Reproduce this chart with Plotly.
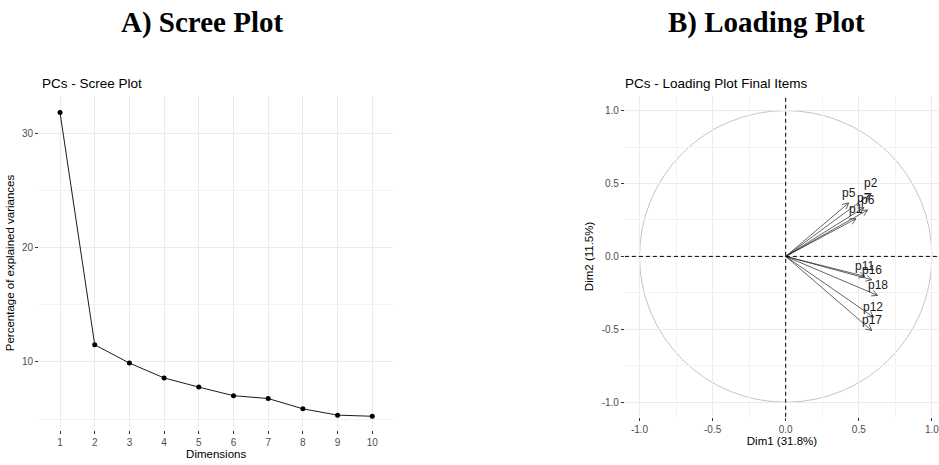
import numpy as np
import plotly.graph_objects as go

# ---------------- data ----------------
dimensions = [1, 2, 3, 4, 5, 6, 7, 8, 9, 10]
explained_var = [31.8, 11.5, 9.9, 8.6, 7.8, 7.05, 6.8, 5.9, 5.35, 5.25]

items = ["p1", "p2", "p5", "p6", "p7", "p11", "p12", "p16", "p17", "p18"]
dim1_load = [0.48, 0.585, 0.43, 0.56, 0.535, 0.542, 0.60, 0.588, 0.588, 0.628]
dim2_load = [0.258, 0.432, 0.366, 0.318, 0.335, -0.137, -0.416, -0.16, -0.508, -0.267]

scree_xticks = [1, 2, 3, 4, 5, 6, 7, 8, 9, 10]
scree_yticks = [10, 20, 30]
load_ticks = [-1.0, -0.5, 0.0, 0.5, 1.0]
load_ticklabels = ["-1.0", "-0.5", "0.0", "0.5", "1.0"]

W, H = 939, 465
SANS = "Liberation Sans, Arial, sans-serif"
SERIF = "Liberation Serif, Times New Roman, serif"
GRID = "#EBEBEB"
MINOR = "#F3F3F3"
TICKC = "#4D4D4D"

fig = go.Figure()

# ---------------- scree plot ----------------
fig.add_trace(go.Scatter(
    x=dimensions, y=explained_var, mode="lines+markers",
    line=dict(color="black", width=0.9),
    marker=dict(color="black", size=5),
    xaxis="x", yaxis="y", showlegend=False, hoverinfo="skip"))

# ---------------- loading plot ----------------
dim1 = np.array(dim1_load)
dim2 = np.array(dim2_load)
theta = np.arctan2(dim2, dim1)
head_len = 0.045
head_ang = np.deg2rad(28)
xs, ys = [], []
for i in range(len(items)):
    tx, ty = dim1[i], dim2[i]
    xs += [0, tx, None]
    ys += [0, ty, None]
    for s in (1, -1):
        hx = tx - head_len * np.cos(theta[i] + s * head_ang)
        hy = ty - head_len * np.sin(theta[i] + s * head_ang)
        xs += [hx, tx, None]
        ys += [hy, ty, None]
fig.add_trace(go.Scatter(
    x=xs, y=ys, mode="lines", line=dict(color="#222222", width=0.7),
    xaxis="x2", yaxis="y2", showlegend=False, hoverinfo="skip"))

for name, lx, ly in zip(items, dim1_load, dim2_load):
    fig.add_annotation(
        x=lx, y=ly, xref="x2", yref="y2", text=name, showarrow=False,
        yshift=10, font=dict(family=SANS, size=12, color="#1a1a1a"))

# unit correlation circle
fig.add_shape(type="circle", xref="x2", yref="y2", x0=-1, y0=-1, x1=1, y1=1,
              line=dict(color="#BDBDBD", width=0.9), layer="below")
# dashed reference lines
fig.add_shape(type="line", xref="x2", yref="y2 domain", x0=0, x1=0, y0=0, y1=1,
              line=dict(color="black", width=1, dash="4px,3px"))
fig.add_shape(type="line", xref="x2 domain", yref="y2", x0=0, x1=1, y0=0, y1=0,
              line=dict(color="black", width=1, dash="4px,3px"))

common_axis = dict(
    showline=False, zeroline=False, ticks="outside", ticklen=3, tickwidth=1,
    tickcolor="#333333", gridcolor=GRID, gridwidth=1,
    ticklabeloverflow="allow",
    tickfont=dict(family=SANS, size=10, color=TICKC),
    title_font=dict(family=SANS, size=11.5, color="black"),
)

fig.update_layout(
    width=W, height=H, margin=dict(l=0, r=0, t=0, b=0),
    paper_bgcolor="white", plot_bgcolor="white",
    showlegend=False,
    xaxis=dict(
        domain=[39.2 / W, 393.1 / W], range=[0.4, 10.6],
        tickmode="array", tickvals=scree_xticks,
        ticktext=[str(v) for v in scree_xticks],
        title=dict(text="Dimensions", standoff=2),
        anchor="y", **common_axis),
    yaxis=dict(
        domain=[(H - 430) / H, (H - 96) / H], range=[4.05, 33.25],
        tickmode="array", tickvals=scree_yticks,
        ticktext=[str(v) for v in scree_yticks],
        minor=dict(tickmode="array", tickvals=[5, 15, 25], showgrid=True,
                   gridcolor=MINOR, gridwidth=0.7, ticks=""),
        title=dict(text="Percentage of explained variances", standoff=5),
        anchor="x", **common_axis),
    xaxis2=dict(
        domain=[624.9 / W, 1.0], range=[-1.1, 1.0486],
        tickmode="array", tickvals=load_ticks, ticktext=load_ticklabels,
        minor=dict(tickmode="array", tickvals=[-0.75, -0.25, 0.25, 0.75],
                   showgrid=True, gridcolor=MINOR, gridwidth=0.7, ticks=""),
        title=dict(text="Dim1 (31.8%)", standoff=2),
        anchor="y2", **common_axis),
    yaxis2=dict(
        domain=[(H - 416.8) / H, (H - 96) / H], range=[-1.1, 1.1],
        tickmode="array", tickvals=load_ticks, ticktext=load_ticklabels,
        minor=dict(tickmode="array", tickvals=[-0.75, -0.25, 0.25, 0.75],
                   showgrid=True, gridcolor=MINOR, gridwidth=0.7, ticks=""),
        title=dict(text="Dim2 (11.5%)", standoff=5),
        anchor="x2", **common_axis),
)

# headings
fig.add_annotation(x=201.7 / W, y=1 - 22 / H, xref="paper", yref="paper",
                   text="<b>A) Scree Plot</b>", showarrow=False,
                   xanchor="center", yanchor="middle",
                   font=dict(family=SERIF, size=29, color="black"))
fig.add_annotation(x=766.7 / W, y=1 - 22 / H, xref="paper", yref="paper",
                   text="<b>B) Loading Plot</b>", showarrow=False,
                   xanchor="center", yanchor="middle",
                   font=dict(family=SERIF, size=29, color="black"))
fig.add_annotation(x=40 / W, y=1 - 83.3 / H, xref="paper", yref="paper",
                   text="PCs - Scree Plot", showarrow=False,
                   xanchor="left", yanchor="middle",
                   font=dict(family=SANS, size=13.5, color="black"))
fig.add_annotation(x=623.3 / W, y=1 - 83.3 / H, xref="paper", yref="paper",
                   text="PCs - Loading Plot Final Items", showarrow=False,
                   xanchor="left", yanchor="middle",
                   font=dict(family=SANS, size=13.5, color="black"))

fig.write_html(
    "out.html",
    config={"displayModeBar": False},
    post_script="document.body.style.margin='0';document.body.style.overflow='hidden';",
)
